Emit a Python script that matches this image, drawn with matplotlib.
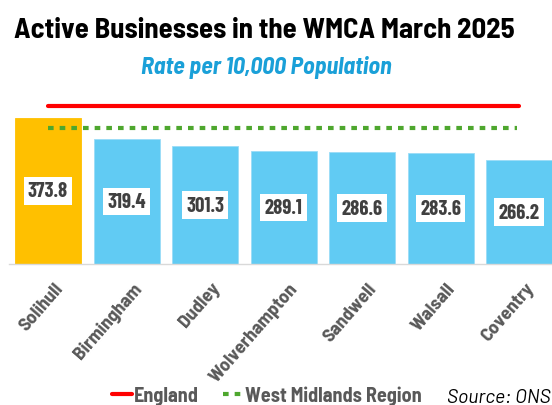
import matplotlib.pyplot as plt
import matplotlib.transforms as mtransforms
import numpy as np

areas = ["Solihull", "Birmingham", "Dudley", "Wolverhampton", "Sandwell", "Walsall", "Coventry"]
rates = [373.8, 319.4, 301.3, 289.1, 286.6, 283.6, 266.2]
england = 405.0
west_midlands = 348.0

NARROW = ["Barlow Semi Condensed", "DejaVu Sans"]
COND = ["Barlow Condensed", "Barlow Semi Condensed", "DejaVu Sans"]

fig = plt.figure(figsize=(5.52, 4.06), dpi=100)
ax = fig.add_axes([0.0159, 0.3473, 0.9955, 0.431])

x = np.arange(len(areas))
colors = ["#FFC000"] + ["#61CBF3"] * (len(areas) - 1)
edges = ["#FFC000"] + ["#9ADCF7"] * (len(areas) - 1)
ax.bar(x, rates, width=0.84, color=colors, edgecolor=edges, linewidth=0.6, zorder=2)

eng, = ax.plot([x[0], x[-1]], [england, england], color="#FF0000", lw=3, solid_capstyle="round", zorder=3)
wm, = ax.plot([x[0], x[-1] - 0.02], [west_midlands, west_midlands], color="#4EA72E", lw=3,
              linestyle=(0, (1.35, 1.45)), zorder=3)

for xi, v in zip(x, rates):
    ax.text(xi, v / 2, f"{v:.1f}", ha="center", va="center", fontsize=15, fontweight="bold",
            color="#404040", family=COND,
            bbox=dict(facecolor="white", edgecolor="none", boxstyle="square,pad=0.2"), zorder=4)

ax.set_xlim(-0.5, len(areas) - 0.5)
ax.set_ylim(0, 448)
ax.set_yticks([])
for s in ["top", "right", "left"]:
    ax.spines[s].set_visible(False)
ax.spines["bottom"].set_color("#D9D9D9")
ax.spines["bottom"].set_linewidth(1)
ax.set_xticks(x)
ax.set_xticklabels(areas, rotation=49, ha="right", rotation_mode="anchor", fontsize=14,
                   fontweight="bold", color="#595959", family=NARROW)
ax.tick_params(axis="x", length=0, pad=11)
shift = mtransforms.ScaledTranslation(4 / 72, 0, fig.dpi_scale_trans)
for lbl in ax.get_xticklabels():
    lbl.set_transform(lbl.get_transform() + shift)

fig.text(0.478, 0.925, "Active Businesses in the WMCA March 2025", ha="center", va="center",
         fontsize=20.7, fontweight="bold", color="black", family=NARROW)
fig.text(0.482, 0.833, "Rate per 10,000 Population", ha="center", va="center",
         fontsize=17.3, fontweight="bold", style="italic", color="#1AA0D8", family=NARROW)

fig.legend([eng, wm], ["England", "West Midlands Region"], loc="center", bbox_to_anchor=(0.484, 0.025),
           ncol=2, frameon=False, handlelength=1.0, handletextpad=0.1, columnspacing=1.2,
           prop=dict(family=NARROW, size=14.5, weight="bold"), labelcolor="#595959")
fig.text(0.998, 0.02, "Source: ONS", ha="right", va="center", fontsize=14, style="italic",
         color="black", family=["Barlow", "Barlow Semi Condensed", "DejaVu Sans"])

fig.savefig("out.png", dpi=100)
